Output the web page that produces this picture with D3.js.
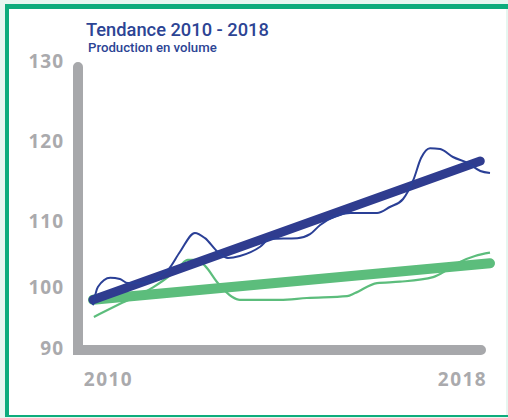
<!DOCTYPE html>
<html><head><meta charset="utf-8">
<script src="https://cdn.jsdelivr.net/npm/d3@7"></script>
<style>
html,body{margin:0;padding:0;background:#e6f6f0;}
svg{display:block;}
</style></head>
<body>
<svg id="c" width="508" height="418"></svg>
<script>
// ---- data ----
const title = "Tendance 2010 - 2018";
const subtitle = "Production en volume";
const yTicks = [90, 100, 110, 120, 130];
const xLabels = ["2010", "2018"];
// blue series (thin, smoothed)
const blueT = [2010.0, 2010.11, 2010.39, 2010.61, 2010.79, 2011.07, 2011.70, 2011.97, 2012.31, 2012.54, 2012.83, 2013.06, 2013.33, 2013.79, 2014.01, 2014.63, 2014.92, 2015.15, 2015.49, 2015.83, 2016.44, 2016.73, 2017.03, 2017.26, 2017.44, 2017.64, 2017.87, 2018.16, 2018.50, 2018.78, 2019.0];
const blueV = [97.0, 100.0, 101.4, 101.2, 100.6, 100.6, 102.6, 105.3, 108.2, 107.4, 105.3, 104.4, 104.7, 106.1, 107.3, 107.4, 108.0, 109.4, 110.6, 111.0, 111.0, 111.75, 112.75, 115.1, 117.9, 119.1, 119.0, 118.0, 117.25, 116.25, 116.0];
// green series (thin, smoothed)
const greenT = [2010.02, 2010.66, 2011.34, 2011.75, 2011.97, 2012.15, 2012.34, 2012.54, 2012.83, 2013.15, 2013.33, 2014.24, 2014.85, 2015.76, 2015.94, 2016.44, 2016.96, 2017.71, 2018.03, 2018.32, 2018.66, 2019.0];
const greenV = [95.1, 97.4, 99.85, 101.8, 103.2, 104.1, 104.1, 103.2, 100.6, 98.4, 97.9, 97.9, 98.2, 98.5, 99.0, 100.6, 100.8, 101.5, 102.6, 103.8, 104.7, 105.2];
// trend lines (start, end)
const trendT = [2010.0, 2018.78];
const blueTrend = [97.9, 117.5];
const greenTrendT = [2010.0, 2019.0];
const greenTrend = [97.9, 103.6];

// ---- scales ----
const svg = d3.select("#c");
const x = d3.scaleLinear().domain([2010, 2019]).range([93, 490]);
const y = d3.scaleLinear().domain(yTicks).range([348, 287, 221, 141, 61]);
const xl = d3.scalePoint().domain(xLabels).range([108, 462]);

// frame
svg.append("rect").attr("x", 5).attr("y", 4).attr("width", 503).attr("height", 413).attr("fill", "#ffffff");
svg.append("rect").attr("x", 5).attr("y", 4).attr("width", 503).attr("height", 5).attr("fill", "#0dac7c");
svg.append("rect").attr("x", 5).attr("y", 4).attr("width", 4).attr("height", 413).attr("fill", "#0dac7c");
svg.append("rect").attr("x", 5).attr("y", 415).attr("width", 503).attr("height", 2).attr("fill", "#0dac7c");
svg.append("rect").attr("x", 506).attr("y", 9).attr("width", 2).attr("height", 406).attr("fill", "#e6f6f0");

// title
svg.append("text").attr("x", 86).attr("y", 36).text(title)
  .attr("font-family", "Roboto").attr("font-weight", 500).attr("font-size", 18.3).attr("fill", "#2c4494");
svg.append("text").attr("x", 88).attr("y", 52).text(subtitle)
  .attr("font-family", "Roboto").attr("font-weight", 500).attr("font-size", 13.2).attr("fill", "#2c4494");

// axes bars
svg.append("path")
  .attr("d", d3.line()([[78, 67], [78, y(90) + 2], [481, y(90) + 2]]))
  .attr("fill", "none").attr("stroke", "#a7a8ab").attr("stroke-width", 10)
  .attr("stroke-linecap", "round").attr("stroke-linejoin", "miter");

// y tick labels
const ya = svg.append("g").attr("transform", "translate(64,0)")
  .call(d3.axisLeft(y).tickValues(yTicks).tickSize(0).tickPadding(0));
ya.select(".domain").remove();
ya.selectAll("text").attr("font-family", "Open Sans").attr("font-weight", 700)
  .attr("font-size", 19).attr("fill", "#aaaaad").attr("letter-spacing", 1);

// x tick labels
const xa = svg.append("g").attr("transform", "translate(0,372)")
  .call(d3.axisBottom(xl).tickSize(0).tickPadding(0));
xa.select(".domain").remove();
xa.selectAll("text").attr("font-family", "Open Sans").attr("font-weight", 700)
  .attr("font-size", 19).attr("fill", "#aaaaad").attr("letter-spacing", 1.5);

// lines
const line = d3.line().x(d => x(d[0])).y(d => y(d[1]));
const smooth = d3.line().x(d => x(d[0])).y(d => y(d[1])).curve(d3.curveMonotoneX);

svg.append("path").datum(greenTrendT.map((t, i) => [t, greenTrend[i]]))
  .attr("d", line).attr("fill", "none").attr("stroke", "#5cbd7c").attr("stroke-width", 10).attr("stroke-linecap", "round");
svg.append("path").datum(greenT.map((t, i) => [t, greenV[i]]))
  .attr("d", smooth).attr("fill", "none").attr("stroke", "#5cbd7c").attr("stroke-width", 2.2);
svg.append("path").datum(trendT.map((t, i) => [t, blueTrend[i]]))
  .attr("d", line).attr("fill", "none").attr("stroke", "#2f3c8f").attr("stroke-width", 9).attr("stroke-linecap", "round");
svg.append("path").datum(blueT.map((t, i) => [t, blueV[i]]))
  .attr("d", smooth).attr("fill", "none").attr("stroke", "#2a3f96").attr("stroke-width", 2);
</script>
</body></html>
